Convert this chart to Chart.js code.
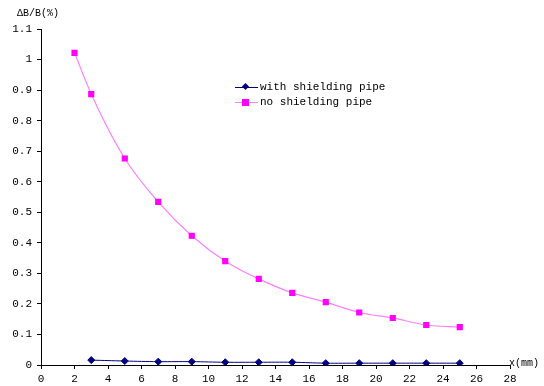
<!DOCTYPE html>
<html>
<head>
<meta charset="utf-8">
<script src="https://cdn.jsdelivr.net/npm/chart.js@4/dist/chart.umd.min.js"></script>
<style>
  body { margin: 0; background: #fff; }
  #wrap { position: relative; width: 544px; height: 386px; }
  .lbl { position: absolute; font-family: "Liberation Mono", monospace; font-size: 11px; color: #000; white-space: nowrap; }
  .leg { position: absolute; left: 235px; font-family: "Liberation Mono", monospace; font-size: 11px; }
  .leg span { display: inline-block; vertical-align: middle; }
</style>
</head>
<body>
<div id="wrap">
  <canvas id="chart" width="544" height="386"></canvas>
  <div class="lbl" style="left:17px; top:8px; font-size:10px;">ΔB/B(%)</div>
  <div class="lbl" style="left:509px; top:358px; font-size:10px;">x(mm)</div>
  <div class="leg" id="leg1" style="top:81px;"></div>
  <div class="leg" id="leg2" style="top:96px;"></div>
</div>
<script>
// valores
const xNoShield = [2, 3, 5, 7, 9, 11, 13, 15, 17, 19, 21, 23, 25];
const noShield = [1.022, 0.887, 0.676, 0.534, 0.423, 0.340, 0.282, 0.236, 0.206, 0.172, 0.154, 0.131, 0.124];
const xWithShield = [3, 5, 7, 9, 11, 13, 15, 17, 19, 21, 23, 25];
const withShield = [0.016, 0.013, 0.011, 0.011, 0.009, 0.009, 0.009, 0.006, 0.006, 0.006, 0.006, 0.006];
const seriesNames = ['with shielding pipe', 'no shielding pipe'];

const tickFont = { family: 'Liberation Mono', size: 11 };

function legendHtml(color, lineColor, marker, text) {
    const m = marker === 'diamond'
        ? '<span style="position:absolute;left:8px;top:-3px;width:5px;height:5px;background:' + color + ';transform:rotate(45deg);"></span>'
        : '<span style="position:absolute;left:7px;top:-3px;width:7px;height:7px;background:' + color + ';"></span>';
    return '<span style="position:relative;width:23px;height:1px;background:' + lineColor + ';margin-right:2px;">' + m + '</span>' +
        '<span>' + text + '</span>';
}
document.getElementById('leg1').innerHTML = legendHtml('#000080', '#000080', 'diamond', seriesNames[0]);
document.getElementById('leg2').innerHTML = legendHtml('#ff00ff', '#ff80ff', 'square', seriesNames[1]);

const ctx = document.getElementById('chart').getContext('2d');
const chart = new Chart(ctx, {
    type: 'scatter',
    data: {
        datasets: [{
            label: seriesNames[0],
            data: xWithShield.map((x, i) => ({ x: x, y: withShield[i] })),
            showLine: true,
            borderColor: '#000080',
            backgroundColor: '#000080',
            borderWidth: 1,
            pointStyle: 'rectRot',
            pointRadius: 3.5,
            tension: 0.4
        }, {
            label: seriesNames[1],
            data: xNoShield.map((x, i) => ({ x: x, y: noShield[i] })),
            showLine: true,
            borderColor: '#ff80ff',
            backgroundColor: '#ff00ff',
            pointBorderColor: '#ff00ff',
            borderWidth: 1.2,
            pointStyle: 'rect',
            pointRadius: 3.5,
            cubicInterpolationMode: 'monotone'
        }]
    },
    options: {
        responsive: false,
        animation: false,
        layout: { padding: { top: 29, right: 34, left: 0, bottom: 0 } },
        plugins: { legend: { display: false }, tooltip: { enabled: false } },
        scales: {
            x: {
                type: 'linear',
                min: 0,
                max: 28,
                ticks: { stepSize: 2, color: '#000', font: tickFont, padding: 3 },
                grid: { drawOnChartArea: false, tickLength: 4, color: '#000' },
                border: { color: '#000' },
                afterFit: s => { s.height = 21; }
            },
            y: {
                min: 0,
                max: 1.1,
                ticks: { stepSize: 0.1, color: '#000', font: tickFont, padding: 5,
                    callback: v => Math.round(v * 10) / 10 },
                grid: { drawOnChartArea: false, tickLength: 4, color: '#000' },
                border: { color: '#000' },
                afterFit: s => { s.width = 41; }
            }
        }
    }
});
</script>
</body>
</html>
